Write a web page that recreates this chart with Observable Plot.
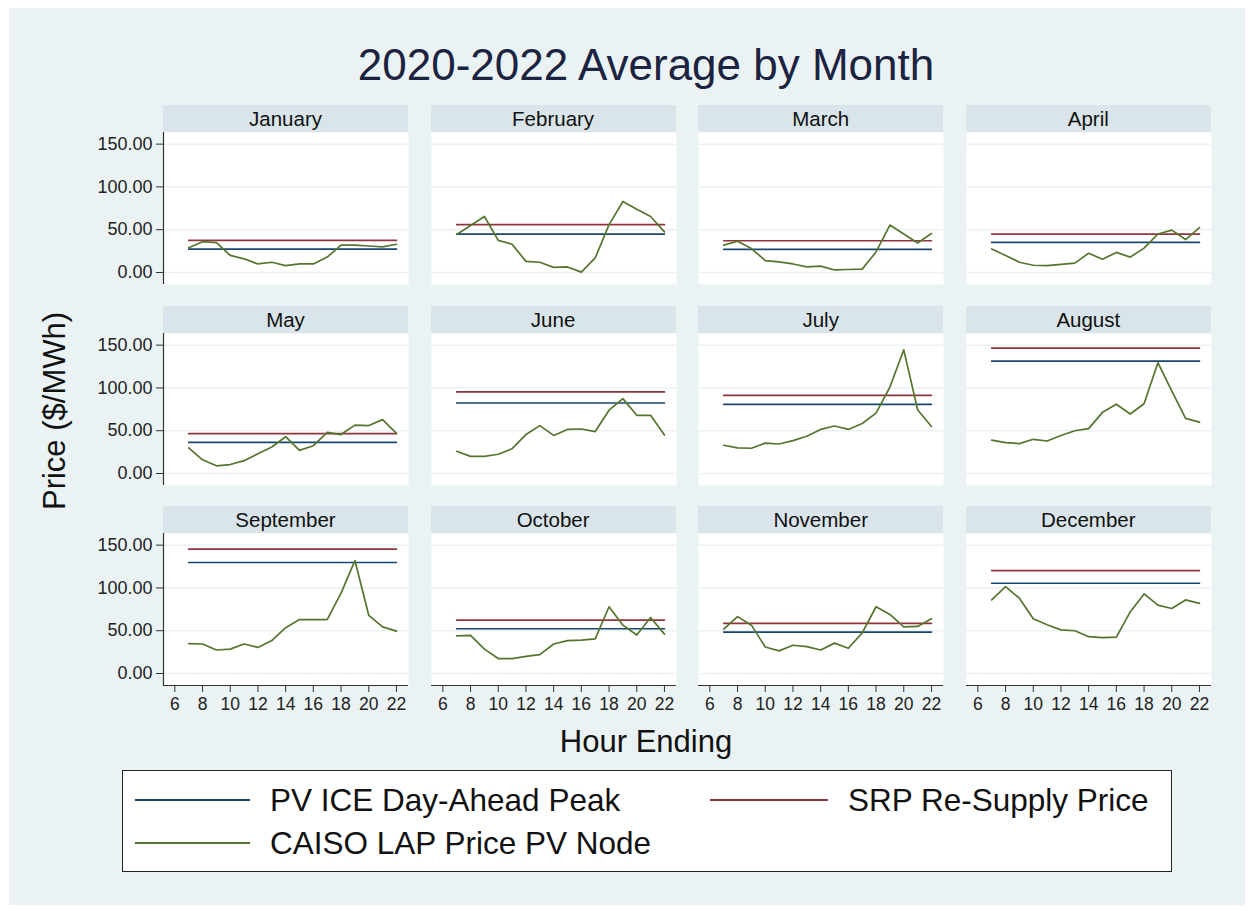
<!DOCTYPE html>
<html><head><meta charset="utf-8">
<script src="https://cdn.jsdelivr.net/npm/d3@7"></script>
<script src="https://cdn.jsdelivr.net/npm/@observablehq/plot@0.6"></script>
<style>
body{margin:0;background:#fff;font-family:"Liberation Sans",Arial,sans-serif;}
#root{position:relative;width:1252px;height:911px;overflow:hidden;}
#bg{position:absolute;left:9px;top:8px;width:1236px;height:897px;background:#eaf2f3;}
.abs{position:absolute;white-space:nowrap;}
.strip{position:absolute;background:#d9e5ea;text-align:center;font-size:20.5px;color:#111;}
.lg{position:absolute;font-size:31.5px;color:#111;line-height:40px;height:40px;white-space:nowrap;}
.sw{position:absolute;height:2px;}
</style></head><body><div id="root"><div id="bg"></div></div>
<script>
const months = ["January","February","March","April","May","June","July","August","September","October","November","December"];
const hours = [7,8,9,10,11,12,13,14,15,16,17,18,19,20,21,22];
const pvIcePeak   = [27.3, 44.9, 27.0, 35.2, 36.3, 82.4, 80.9, 131.3, 129.7, 52.3, 48.4, 105.5];
const srpResupply = [37.5, 55.9, 37.1, 44.9, 46.5, 95.3, 91.4, 146.5, 145.3, 62.5, 58.6, 120.3];
const caisoJan = [29, 36, 35, 20, 16, 10, 12, 8, 10, 10, 18, 32, 32, 31, 30, 33];
const caisoFeb = [44.5, 55, 65.5, 37.5, 33, 13, 12, 6, 6.5, 0.5, 17, 56, 83, 74, 65.5, 47.5];
const caisoMar = [32, 36.5, 28, 14, 12.5, 10, 6.5, 7.5, 3, 3.5, 4, 24, 55.5, 45, 34.5, 45.5];
const caisoApr = [27.5, 20, 12, 8.5, 8, 9.5, 11, 22.5, 15.5, 23.5, 18, 28.5, 45, 49.5, 38.5, 52.5];
const caisoMay = [30, 16, 9, 10.5, 15, 23, 31, 43, 27, 32.5, 48, 45.5, 56.5, 56, 63, 47];
const caisoJun = [26, 20, 20, 22.5, 29, 45.5, 56, 44.5, 51.5, 52, 49, 74, 87.5, 68, 68, 45];
const caisoJul = [33, 30, 29.5, 35.5, 34.5, 38.5, 43.5, 51.5, 55.5, 51.5, 58.5, 70.5, 101, 144.5, 74.5, 55];
const caisoAug = [39, 36, 35, 40, 38, 44.5, 50, 52.5, 71.5, 81, 69.5, 81.5, 129.5, 96.5, 64.5, 60];
const caisoSep = [35, 34.5, 27.5, 28.5, 34.5, 30.5, 38.5, 53.5, 63, 63, 63, 94, 132, 68, 54.5, 49.5];
const caisoOct = [44, 44.5, 28.5, 17.5, 17.5, 20, 22, 34.5, 38.5, 39, 40.5, 78, 56.5, 45, 65.5, 46];
const caisoNov = [52, 66.5, 56.5, 31, 26.5, 33, 31.5, 27.5, 35.5, 29.5, 47.5, 78, 69, 54.5, 55, 64];
const caisoDec = [86, 101.5, 88, 64, 57, 51, 50, 43, 42, 42.5, 72, 93, 80, 76, 86, 82];
const caisoByMonth = [caisoJan,caisoFeb,caisoMar,caisoApr,caisoMay,caisoJun,caisoJul,caisoAug,caisoSep,caisoOct,caisoNov,caisoDec];
const yTicks = [0, 50, 100, 150];
const xTicks = [6, 8, 10, 12, 14, 16, 18, 20, 22];
const seriesNames = ["PV ICE Day-Ahead Peak", "SRP Re-Supply Price", "CAISO LAP Price PV Node"];
const seriesColors = ["#1a476f", "#90353b", "#55752f"];

const xDomain = [5.18, 22.87];
const yDomain = [-14, 163.6];
const root = document.getElementById("root");
const FONT = '"Liberation Sans", Arial, sans-serif';

function addDiv(cls, text, css) {
  const d = document.createElement("div");
  d.className = cls;
  if (text != null) d.textContent = text;
  Object.assign(d.style, css);
  root.appendChild(d);
  return d;
}

// Title and axis titles
addDiv("abs", "2020-2022 Average by Month", {left:"646px", top:"39px", transform:"translateX(-50%)", fontSize:"44px", lineHeight:"52px", color:"#1c2340"});
addDiv("abs", "Hour Ending", {left:"646px", top:"722px", transform:"translateX(-50%)", fontSize:"31px", lineHeight:"40px", color:"#111"});
addDiv("abs", "Price ($/MWh)", {left:"55px", top:"411px", transform:"translate(-50%,-50%) rotate(-90deg)", fontSize:"31px", lineHeight:"40px", color:"#111"});

const panelW = 245, stripH = 27, plotH = 152;
months.forEach((m, i) => {
  const col = i % 4, row = Math.floor(i / 4);
  const left = 163 + col * 267.6;
  const top = 105 + row * 200.5;
  addDiv("strip", m, {left: left + "px", top: top + "px", width: panelW + "px", height: stripH + "px", lineHeight: stripH + "px"});
  const ml = col === 0 ? 75 : 0;
  const mb = row === 2 ? 40 : 0;
  const data = hours.map((h, k) => ({hour: h, pv: pvIcePeak[i], srp: srpResupply[i], caiso: caisoByMonth[i][k]}));
  const marks = [
    Plot.frame({fill: "white", stroke: "none"}),
    Plot.gridY(yTicks, {stroke: "#eaf2f3", strokeOpacity: 1, strokeWidth: 1.5}),
    Plot.lineY(data, {x: "hour", y: "pv", stroke: seriesColors[0], strokeWidth: 1.7}),
    Plot.lineY(data, {x: "hour", y: "srp", stroke: seriesColors[1], strokeWidth: 1.7}),
    Plot.lineY(data, {x: "hour", y: "caiso", stroke: seriesColors[2], strokeWidth: 1.7})
  ];
  if (col === 0) {
    marks.push(Plot.axisY({ticks: yTicks, tickFormat: d => d.toFixed(2), tickSize: 7, tickPadding: 4, fontSize: 18, stroke: "#333", label: null}));
    marks.push(Plot.ruleX([xDomain[0]], {stroke: "#333", strokeWidth: 1.2}));
  }
  if (row === 2) {
    marks.push(Plot.axisX({ticks: xTicks, tickSize: 7, tickPadding: 5, fontSize: 17.5, stroke: "#333", label: null}));
    marks.push(Plot.ruleY([yDomain[0]], {stroke: "#333", strokeWidth: 1.2}));
  }
  const chart = Plot.plot({
    width: panelW + ml,
    height: plotH + mb,
    marginLeft: ml, marginRight: 0, marginTop: 0, marginBottom: mb,
    x: {domain: xDomain, axis: row === 2 ? undefined : null, label: null},
    y: {domain: yDomain, axis: col === 0 ? undefined : null, label: null},
    style: {background: "transparent", fontFamily: FONT, fontSize: "17px", color: "#222", overflow: "visible"},
    marks
  });
  chart.style.position = "absolute";
  chart.style.left = (left - ml) + "px";
  chart.style.top = (top + stripH) + "px";
  chart.style.maxWidth = "none";
  root.appendChild(chart);
});

// Legend
addDiv("abs", null, {left:"122px", top:"770px", width:"1048px", height:"100px", background:"#fff", border:"1.5px solid #222"});
const legendPos = [
  {sx: 135, sw: 115, tx: 270, cy: 800},
  {sx: 710, sw: 118, tx: 848, cy: 800},
  {sx: 135, sw: 115, tx: 270, cy: 843}
];
seriesNames.forEach((name, k) => {
  const p = legendPos[k];
  addDiv("sw", null, {left: p.sx + "px", top: (p.cy - 1) + "px", width: p.sw + "px", background: seriesColors[k]});
  addDiv("lg", name, {left: p.tx + "px", top: (p.cy - 20) + "px"});
});
</script>
</body></html>
